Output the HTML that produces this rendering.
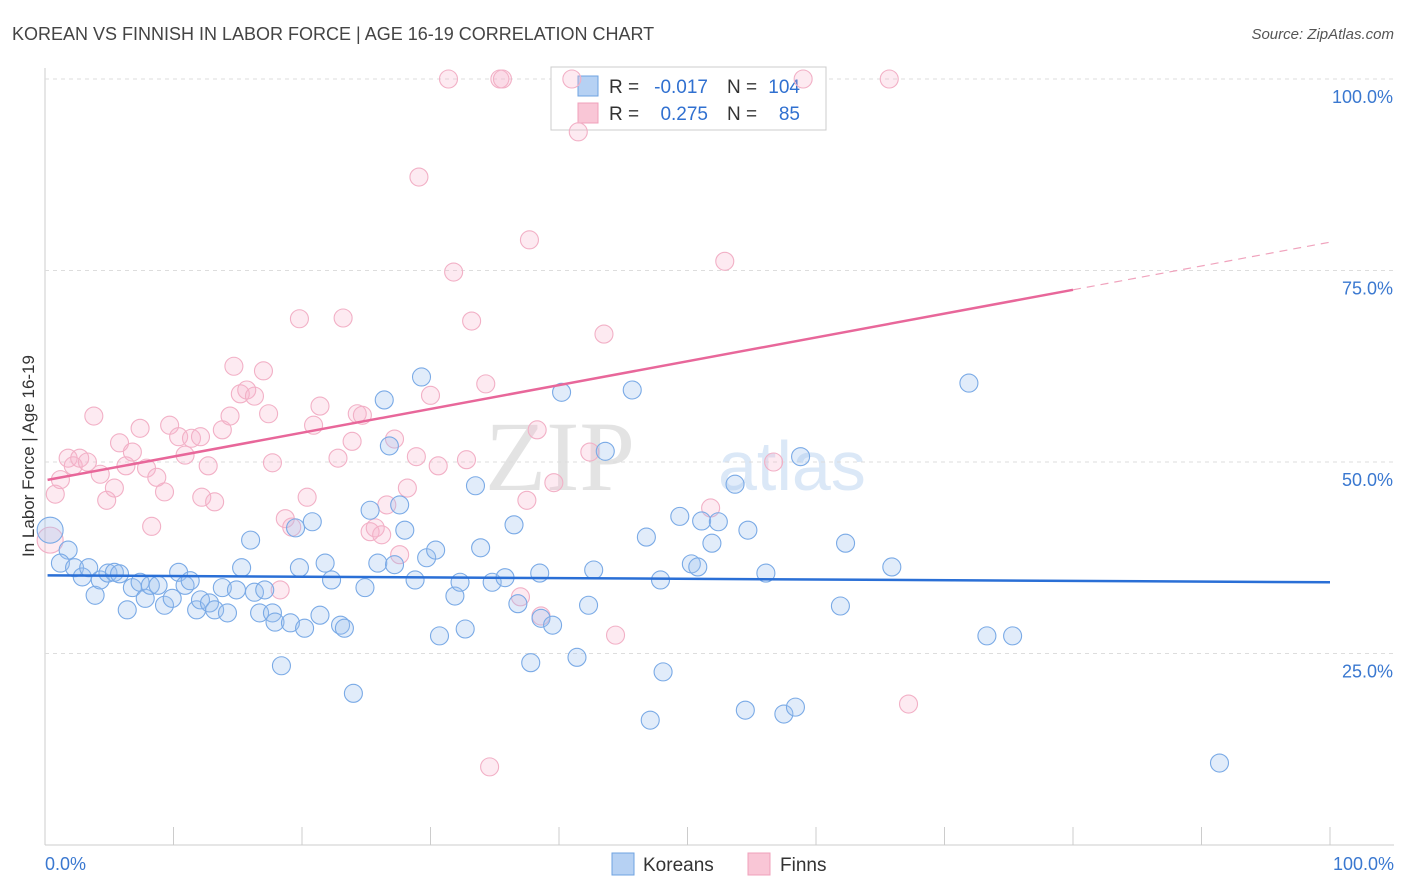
<!DOCTYPE html>
<html><head><meta charset="utf-8"><style>
body{margin:0;background:#fff;font-family:"Liberation Sans",sans-serif;}
</style></head><body>
<svg id="chart" width="1406" height="892" xmlns="http://www.w3.org/2000/svg" style="position:absolute;left:0;top:0">
<text x="12" y="40" font-size="18" fill="#444">KOREAN VS FINNISH IN LABOR FORCE | AGE 16-19 CORRELATION CHART</text>
<text x="1394" y="39" font-size="15" fill="#555" font-style="italic" text-anchor="end">Source: ZipAtlas.com</text>
<text x="635" y="490" font-size="100" fill="#e3e3e3" font-family="Liberation Serif" text-anchor="end">ZIP</text>
<text x="718" y="490" font-size="70" fill="#dbe8f7">atlas</text>
<text transform="translate(34,456) rotate(-90)" font-size="17" fill="#333" text-anchor="middle">In Labor Force | Age 16-19</text>
<g id="grid"></g>
<g>
<rect x="551" y="67" width="275" height="63" fill="#fff" stroke="#ccc"/>
<rect x="578" y="76" width="20" height="20" fill="#b6d1f3" stroke="#6fa3e0"/>
<rect x="578" y="103" width="20" height="20" fill="#f9c6d6" stroke="#f0a0bb"/>
<text x="609" y="93" font-size="19" fill="#333">R =</text>
<text x="708" y="93" font-size="19" fill="#3070d0" text-anchor="end">-0.017</text>
<text x="727" y="93" font-size="19" fill="#333">N =</text>
<text x="800" y="93" font-size="19" fill="#3070d0" text-anchor="end">104</text>
<text x="609" y="120" font-size="19" fill="#333">R =</text>
<text x="708" y="120" font-size="19" fill="#3070d0" text-anchor="end">0.275</text>
<text x="727" y="120" font-size="19" fill="#333">N =</text>
<text x="800" y="120" font-size="19" fill="#3070d0" text-anchor="end">85</text>
</g>
<g id="pts"></g><g id="trend"></g>
<g>
<rect x="612" y="853" width="22" height="22" fill="#b6d1f3" stroke="#6fa3e0"/>
<text x="643" y="871" font-size="19" fill="#333">Koreans</text>
<rect x="748" y="853" width="22" height="22" fill="#f9c6d6" stroke="#f0a0bb"/>
<text x="780" y="871" font-size="19" fill="#333">Finns</text>
</g>
<text x="45" y="870" font-size="18" fill="#3a78d0">0.0%</text>
<text x="1394" y="870" font-size="18" fill="#3a78d0" text-anchor="end">100.0%</text>
</svg>
<script>
const yTicks=[100,75,50,25];
const yTickLabels=["100.0%","75.0%","50.0%","25.0%"];
const xTicks=[0,10,20,30,40,50,60,70,80,90,100];
const korX=[0.4,1.8,1.2,2.3,2.9,3.4,3.9,4.3,4.9,5.4,5.8,6.4,6.8,7.4,7.8,8.2,8.8,9.3,9.9,10.4,10.9,11.3,11.8,12.1,12.8,13.2,13.8,14.2,14.9,15.3,16.0,16.3,16.7,17.1,17.7,17.9,18.4,19.1,19.5,19.8,20.2,20.8,21.4,21.8,22.3,23.0,23.3,24.0,24.9,25.3,25.9,26.4,26.8,27.2,27.6,28.0,28.8,29.3,29.7,30.4,30.7,31.9,32.3,32.7,33.5,33.9,34.8,35.8,36.5,36.8,37.8,38.5,38.6,39.5,40.2,41.4,42.3,42.7,43.6,45.7,46.8,47.1,47.9,48.1,49.4,50.3,50.8,51.1,51.9,52.4,53.7,54.5,54.7,56.1,57.5,58.4,58.8,61.9,62.3,65.9,71.9,73.3,75.3,91.4];
const korY=[41.1,38.5,36.8,36.2,35.0,36.2,32.6,34.6,35.5,35.6,35.4,30.7,33.6,34.3,32.2,33.9,33.9,31.3,32.2,35.6,33.9,34.5,30.7,32.0,31.6,30.7,33.6,30.3,33.3,36.2,39.8,33.0,30.3,33.3,30.3,29.1,23.4,29.0,41.4,36.2,28.3,42.2,30.0,36.8,34.6,28.7,28.3,19.8,33.6,43.7,36.8,58.1,52.1,36.6,44.4,41.1,34.6,61.1,37.5,38.5,27.3,32.5,34.3,28.2,46.9,38.8,34.3,34.9,41.8,31.5,23.8,35.5,29.6,28.7,59.1,24.5,31.3,35.9,51.4,59.4,40.2,16.3,34.6,22.6,42.9,36.7,36.3,42.3,39.4,42.2,47.1,17.6,41.1,35.5,17.1,18.0,50.7,31.2,39.4,36.3,60.3,27.3,27.3,10.7];
const finX=[0.4,0.8,1.2,1.8,2.2,2.7,3.3,3.8,4.3,4.8,5.4,5.8,6.3,6.8,7.4,7.9,8.3,8.7,9.3,9.7,10.4,10.9,11.4,12.1,12.2,12.7,13.2,13.8,14.4,14.7,15.2,15.7,16.3,17.0,17.4,17.7,18.3,18.7,19.2,19.8,20.4,20.9,21.4,22.8,23.2,23.9,24.3,24.7,25.3,25.7,26.2,26.6,27.2,27.6,28.2,28.9,29.1,30.0,30.6,31.4,31.8,32.8,33.2,34.3,34.6,35.4,35.6,37.0,37.5,37.7,38.3,38.6,39.6,41.0,41.5,42.4,43.5,44.4,51.8,52.9,56.7,59.0,65.7,67.2];
const finY=[39.8,45.8,47.7,50.5,49.5,50.5,50.0,56.0,48.4,45.0,46.6,52.5,49.5,51.3,54.4,49.2,41.6,48.0,46.1,54.8,53.3,50.9,53.1,53.3,45.4,49.5,44.8,54.2,56.0,62.5,58.9,59.4,58.6,61.9,56.3,49.9,33.3,42.6,41.5,68.7,45.4,54.8,57.3,50.5,68.8,52.7,56.3,56.1,40.9,41.4,40.5,44.4,53.0,37.9,46.6,50.7,87.2,58.7,49.5,100,74.8,50.3,68.4,60.2,10.2,100,100,32.4,45.0,79.0,54.2,29.9,47.3,100,93.1,51.3,66.7,27.4,44.0,76.2,50.0,100,100,18.4];
const korTrend=[35.2,34.3];
const finTrend=[47.6,78.7];
const finSolidEnd=80;
const NS="http://www.w3.org/2000/svg";
const X0=45,X1=1330,Y0=845,Y100=79;
function sx(v){return X0+(X1-X0)*v/100;}
function sy(v){return Y0-(Y0-Y100)*v/100;}
function mk(tag,attrs,parent){const e=document.createElementNS(NS,tag);for(const k in attrs)e.setAttribute(k,attrs[k]);parent.appendChild(e);return e;}
const grid=document.getElementById('grid');
let ax=mk('line',{x1:X0,y1:68,x2:X0,y2:Y0,stroke:'#ccc'},grid);


let bx=mk('line',{x1:X0,y1:Y0,x2:1394,y2:Y0,stroke:'#ccc'},grid);


yTicks.forEach((t,i)=>{
 const g=mk('line',{x1:X0,y1:sy(t),x2:1394,y2:sy(t),stroke:'#ddd','stroke-dasharray':'4,4'},grid);
 
 
 const tx=mk('text',{x:1393,y:sy(t)+24,'font-size':18,fill:'#3a78d0','text-anchor':'end'},grid);
 tx.textContent=yTickLabels[i];
 
 
});
xTicks.forEach(t=>{
 const l=mk('line',{x1:sx(t),y1:Y0,x2:sx(t),y2:Y0-18,stroke:'#ccc'},grid);
 
 
});
const pts=document.getElementById('pts');
finX.forEach((x,i)=>{
 const c=mk('circle',{cx:sx(x),cy:sy(finY[i]),r:i==0?13:9,fill:'rgba(248,180,205,0.28)',stroke:'#f2b0c6','stroke-width':1.1},pts);
 
 
});
korX.forEach((x,i)=>{
 const c=mk('circle',{cx:sx(x),cy:sy(korY[i]),r:i==0?13:9,fill:'rgba(155,192,240,0.3)',stroke:'#7aaae6','stroke-width':1.1},pts);
 
 
});
const tr=document.getElementById('trend');
let kl=mk('line',{x1:sx(0.2),y1:sy(korTrend[0]),x2:sx(100),y2:sy(korTrend[1]),stroke:'#2a6fd6','stroke-width':2.5},tr);


const fAt=v=>finTrend[0]+(finTrend[1]-finTrend[0])*v/100;
let fl=mk('line',{x1:sx(0.2),y1:sy(fAt(0.2)),x2:sx(finSolidEnd),y2:sy(fAt(finSolidEnd)),stroke:'#e8679a','stroke-width':2.5},tr);


let fd=mk('line',{x1:sx(finSolidEnd),y1:sy(fAt(finSolidEnd)),x2:sx(100),y2:sy(fAt(100)),stroke:'#f0a3bd','stroke-width':1.2,'stroke-dasharray':'8,6'},tr);


</script>
</body></html>
